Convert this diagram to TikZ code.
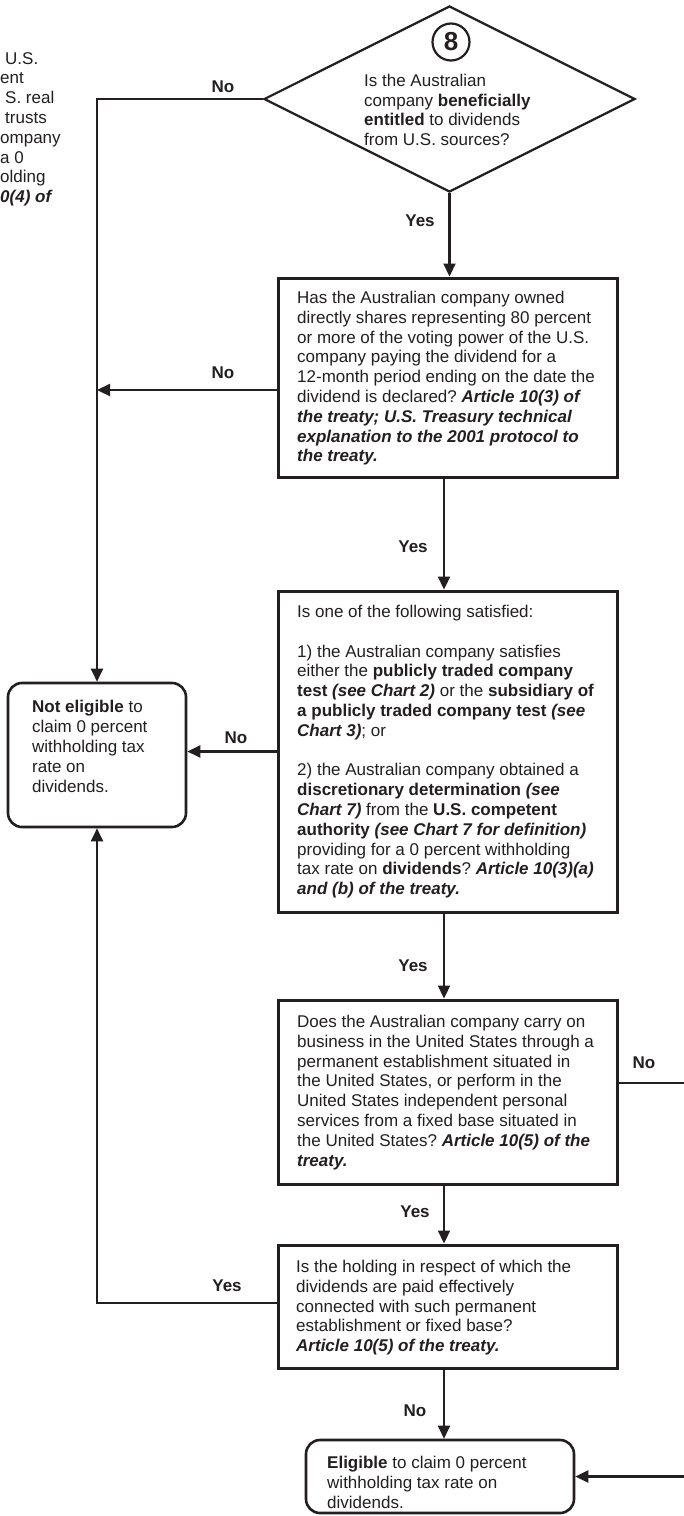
\documentclass[tikz,border=0pt]{standalone}
\usepackage{fontspec}
\setmainfont{Liberation Sans}
\usetikzlibrary{arrows.meta,shapes.geometric}
\definecolor{ink}{RGB}{35,31,32}
\newcommand\bitx[1]{\textbf{\textit{#1}}}
\frenchspacing
\begin{document}
\begin{tikzpicture}[x=1pt,y=-1pt,
  box/.style={draw=ink, line width=3pt, rectangle, inner sep=0pt, minimum width=339pt},
  rbox/.style={draw=ink, line width=2.6pt, rounded corners=14pt, inner sep=0pt},
  txt/.style={anchor=north west, inner sep=0pt, align=left, font=\fontsize{17}{19.8}\selectfont, text=ink},
  lbl/.style={font=\bfseries\fontsize{17}{20}\selectfont, text=ink, inner sep=0pt},
  conn/.style={draw=ink, line width=2.2pt},
  arr/.style={conn, -{Triangle[length=13pt,width=12pt]}}]
\useasboundingbox (0,0) rectangle (684,1516);
\clip (0,0) rectangle (684,1516);
\fill[white] (0,0) rectangle (684,1516);

% shapes
\node[draw=ink, line width=2.2pt, diamond, minimum width=371pt, minimum height=186pt, inner sep=0pt] (q8) at (449.5,99) {};
\node[circle, draw=ink, line width=2.2pt, minimum size=37pt, inner sep=0pt, text=ink, font=\bfseries\fontsize{26}{26}\selectfont] (c8) at (451,42) {8};
\node[box, minimum height=199pt] (b2) at (447.5,377.5) {};
\node[box, minimum height=321pt] (b3) at (447.5,751.5) {};
\node[box, minimum height=184pt] (b4) at (447.5,1092) {};
\node[box, minimum height=123pt] (b5) at (447.5,1306.5) {};
\node[rbox, minimum width=178pt, minimum height=144pt] (ne) at (97,755) {};
\node[rbox, minimum width=268pt, minimum height=73pt] (el) at (440,1476.5) {};
\coordinate (rEdge) at (720,0);

% texts
\node[txt] (frag) at (0,52) {\hspace*{5pt}U.S.\\ent\\\hspace*{5pt}S. real\\\hspace*{5pt}trusts\\ompany\\a 0\\olding\\\bitx{0(4) of}};
\node[txt, font=\fontsize{17}{19.5}\selectfont] (t8) at (364,74) {Is the Australian\\company \textbf{beneficially}\\\textbf{entitled} to dividends\\from U.S. sources?};
\node[txt] (t2) at (297,291) {Has the Australian company owned\\directly shares representing 80 percent\\or more of the voting power of the U.S.\\company paying the dividend for a\\12-month period ending on the date the\\dividend is declared? \bitx{Article 10(3) of}\\\bitx{the treaty; U.S. Treasury technical}\\\bitx{explanation to the 2001 protocol to}\\\bitx{the treaty.}};
\node[txt] (t3) at (297,605) {Is one of the following satisfied:\\[19.8pt]1) the Australian company satisfies\\either the \textbf{publicly traded company}\\\textbf{test} \bitx{(see Chart 2)} or the \textbf{subsidiary of}\\\textbf{a publicly traded company test} \bitx{(see}\\\bitx{Chart 3)}; or\\[19.8pt]2) the Australian company obtained a\\\textbf{discretionary determination} \bitx{(see}\\\bitx{Chart 7)} from the \textbf{U.S. competent}\\\textbf{authority} \bitx{(see Chart 7 for definition)}\\providing for a 0 percent withholding\\tax rate on \textbf{dividends}? \bitx{Article 10(3)(a)}\\\bitx{and (b) of the treaty.}};
\node[txt] (t4) at (297,1015) {Does the Australian company carry on\\business in the United States through a\\permanent establishment situated in\\the United States, or perform in the\\United States independent personal\\services from a fixed base situated in\\the United States? \bitx{Article 10(5) of the}\\\bitx{treaty.}};
\node[txt] (t5) at (296,1260) {Is the holding in respect of which the\\dividends are paid effectively\\connected with such permanent\\establishment or fixed base?\\\bitx{Article 10(5) of the treaty.}};
\node[txt, font=\fontsize{17}{20}\selectfont] (tne) at (32,700) {\textbf{Not eligible} to\\claim 0 percent\\withholding tax\\rate on\\dividends.};
\node[txt, font=\fontsize{17}{20}\selectfont] (tel) at (327,1456) {\textbf{Eligible} to claim 0 percent\\withholding tax rate on\\dividends.};

% connectors
\draw[arr] (q8.west) -- (q8.west -| ne.north) -- (ne.north);
\draw[arr] (q8.south) -- (q8.south |- b2.north);
\draw[arr] ([yshift=-12.5pt]b2.west) -- ([yshift=-12.5pt]b2.west -| ne.north);
\draw[arr] ([xshift=-3.5pt]b2.south) -- ([xshift=-3.5pt]b3.north);
\draw[arr] (b3.west) -- (b3.west -| ne.east);
\draw[arr] ([xshift=-3.5pt]b3.south) -- ([xshift=-3.5pt]b4.north);
\draw[arr] ([yshift=9pt]b4.east) -- ([yshift=9pt]b4.east -| rEdge) |- (el.east);
\draw[arr] ([xshift=-3.5pt]b4.south) -- ([xshift=-3.5pt]b5.north);
\draw[arr] ([yshift=3.5pt]b5.west) -- ([yshift=3.5pt]b5.west -| ne.south) -- (ne.south);
\draw[arr] ([xshift=-3.5pt]b5.south) -- ([xshift=-3.5pt]b5.south |- el.north);

% labels
\node[lbl] (n1) at (223,87) {No};
\node[lbl] (y1) at (420,221) {Yes};
\node[lbl] (n2) at (223,373) {No};
\node[lbl] (y2) at (413,547) {Yes};
\node[lbl] (n3) at (236,738) {No};
\node[lbl] (y3) at (413,966) {Yes};
\node[lbl] (n4) at (644,1063) {No};
\node[lbl] (y4) at (415,1212) {Yes};
\node[lbl] (y5) at (227,1286) {Yes};
\node[lbl] (n5) at (415,1411) {No};
\end{tikzpicture}
\end{document}
